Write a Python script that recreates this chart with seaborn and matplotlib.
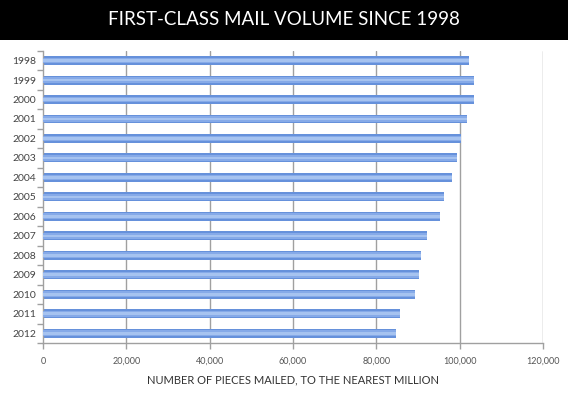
import matplotlib
matplotlib.use('Agg')
import matplotlib.pyplot as plt
import seaborn as sns
import pandas as pd
import numpy as np
from matplotlib.patches import Rectangle

# ── DATA ─────────────────────────────────────────────
years = ['1998', '1999', '2000', '2001', '2002', '2003', '2004', '2005',
         '2006', '2007', '2008', '2009', '2010', '2011', '2012']
volume = [102300, 103500, 103400, 101800, 100300, 99500, 98100, 96200,
          95300, 92100, 90700, 90200, 89300, 85800, 84700]
x_ticks = [0, 20000, 40000, 60000, 80000, 100000, 120000]

df = pd.DataFrame({'year': years, 'volume': volume})

# ── PLOT ─────────────────────────────────────────────
sns.set_style('white')
plt.rcParams['font.family'] = ['Lato', 'DejaVu Sans']

fig = plt.figure(figsize=(5.68, 3.97), dpi=100)
ax = fig.add_axes([0.0757, 0.136, 0.880, 0.736])

# black title band
fig.patches.append(Rectangle((0, 0.899), 1, 0.101, transform=fig.transFigure,
                             facecolor='black', edgecolor='none', zorder=0))
fig.text(0.5, 0.95, 'FIRST-CLASS MAIL VOLUME SINCE 1998', color='white',
         fontsize=13.5, ha='center', va='center')

for x in x_ticks[1:]:
    ax.axvline(x, color='#a0a0a0', lw=1.0, zorder=0)

# bars with a lighter core for the rounded look
layers = [('#6691db', 0.46), ('#86aae8', 0.30), ('#a6c3f0', 0.14)]
for i, (c, w) in enumerate(layers):
    sns.barplot(data=df, x='volume', y='year', orient='h', color=c,
                width=w, saturation=1, linewidth=0, edgecolor='none',
                ax=ax, zorder=2 + i)

ax.set_xlim(0, 120000)
ax.set_ylim(len(years) - 0.5, -0.5)
ax.set_xticks(x_ticks)
ax.set_xticklabels([f'{v:,}' for v in x_ticks], color='#555555', fontsize=6.5)
ax.tick_params(axis='x', length=4, width=1, color='#a0a0a0', pad=6, direction='out', bottom=True)
ax.tick_params(axis='y', which='major', length=0, labelsize=7.5, labelcolor='#444444', pad=5)
ax.set_yticks(np.arange(len(years) + 1) - 0.5, minor=True)
ax.tick_params(axis='y', which='minor', length=4, width=1, color='#a0a0a0', left=True)

ax.set_ylabel('')
ax.set_xlabel('NUMBER OF PIECES MAILED, TO THE NEAREST MILLION', fontsize=8,
              color='#333333', labelpad=6)

for s in ['top', 'right']:
    ax.spines[s].set_visible(False)
for s in ['left', 'bottom']:
    ax.spines[s].set_color('#a0a0a0')
    ax.spines[s].set_linewidth(1)

plt.savefig('out.png', dpi=100)
